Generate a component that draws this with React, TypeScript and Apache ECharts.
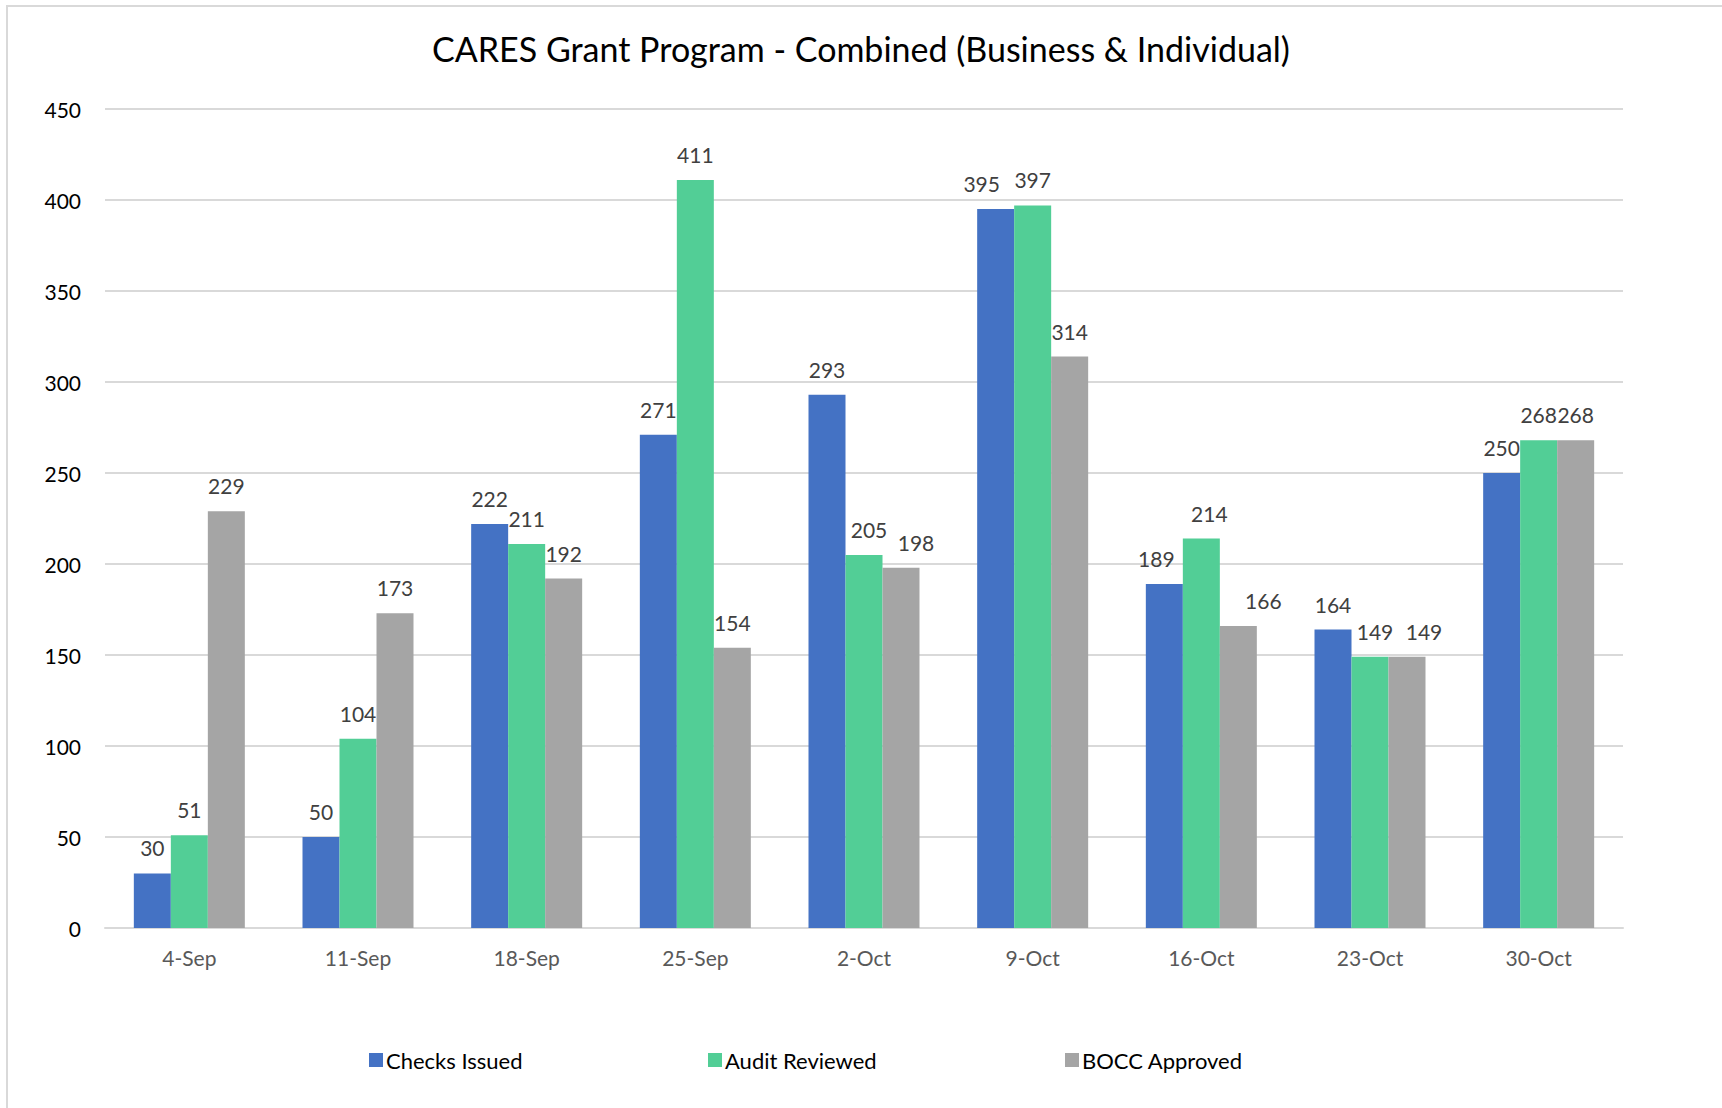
import React, { useEffect, useRef } from "react";
import * as echarts from "echarts";

const categories = ["4-Sep", "11-Sep", "18-Sep", "25-Sep", "2-Oct", "9-Oct", "16-Oct", "23-Oct", "30-Oct"];
const checksIssued = [30, 50, 222, 271, 293, 395, 189, 164, 250];
const auditReviewed = [51, 104, 211, 411, 205, 397, 214, 149, 268];
const boccApproved = [229, 173, 192, 154, 198, 314, 166, 149, 268];
const seriesNames = ["Checks Issued", "Audit Reviewed", "BOCC Approved"];
const colors = ["#4472C4", "#52CE96", "#A5A5A5"];
const titleText = "CARES Grant Program - Combined (Business & Individual)";

// horizontal nudges of individual data labels (style only), as in the original
const checksLabelShift = [0, 0, 0, 0, 0, -14, -8, 0, 0];
const auditLabelShift = [0, 0, 0, 0, 5, 0, 8, 5, 0];
const boccLabelShift = [0, 0, 0, 0, 15, 0, 25, 17, 0];

const FONT = "Lato, 'Open Sans', sans-serif";

export default function App() {
  const ref = useRef<HTMLDivElement>(null);
  useEffect(() => {
    if (!ref.current) return;
    const chart = echarts.init(ref.current, null, { renderer: "svg" });
    const values = [checksIssued, auditReviewed, boccApproved];
    const shifts = [checksLabelShift, auditLabelShift, boccLabelShift];
    const legendLefts = [364, 703, 1060];
    chart.setOption({
      animation: false,
      backgroundColor: "#ffffff",
      textStyle: { fontFamily: FONT },
      title: {
        text: titleText,
        left: "center",
        top: 26,
        textStyle: { fontFamily: FONT, fontSize: 34, fontWeight: "normal", color: "#000000" },
      },
      legend: seriesNames.map((n, i) => ({
        data: [n],
        left: legendLefts[i],
        top: 1044,
        icon: "rect",
        itemWidth: 14,
        itemHeight: 14,
        itemGap: 0,
        textStyle: { fontFamily: FONT, fontSize: 22, color: "#000000", padding: [0, 0, 0, -2] },
      })),
      graphic: [
        {
          type: "rect",
          shape: { x: 7, y: 6, width: 1800, height: 1200 },
          style: { fill: "none", stroke: "#D9D9D9", lineWidth: 2 },
          silent: true,
        },
      ],
      grid: { left: 105, right: 99, top: 109, bottom: 180 },
      xAxis: {
        type: "category",
        data: categories,
        axisLine: { lineStyle: { color: "#D9D9D9", width: 2 } },
        axisTick: { show: false },
        axisLabel: { fontFamily: FONT, fontSize: 21, color: "#595959", margin: 19 },
      },
      yAxis: {
        type: "value",
        min: 0,
        max: 450,
        interval: 50,
        axisLine: { show: false },
        axisTick: { show: false },
        splitLine: { lineStyle: { color: "#D9D9D9", width: 2 } },
        axisLabel: { fontFamily: FONT, fontSize: 21, color: "#000000", margin: 24 },
      },
      series: seriesNames.map((n, i) => ({
        name: n,
        type: "bar",
        data: values[i].map((v, j) =>
          shifts[i][j] ? { value: v, label: { offset: [shifts[i][j], 0] } } : v
        ),
        barWidth: 37,
        barGap: "0%",
        itemStyle: { color: colors[i] },
        label: {
          show: true,
          position: "top",
          distance: 15,
          fontFamily: FONT,
          fontSize: 21,
          color: "#404040",
        },
      })),
    });
    return () => chart.dispose();
  }, []);
  return (
    <div
      ref={ref}
      style={{ position: "absolute", left: 0, top: 0, width: 1722, height: 1108 }}
    />
  );
}
